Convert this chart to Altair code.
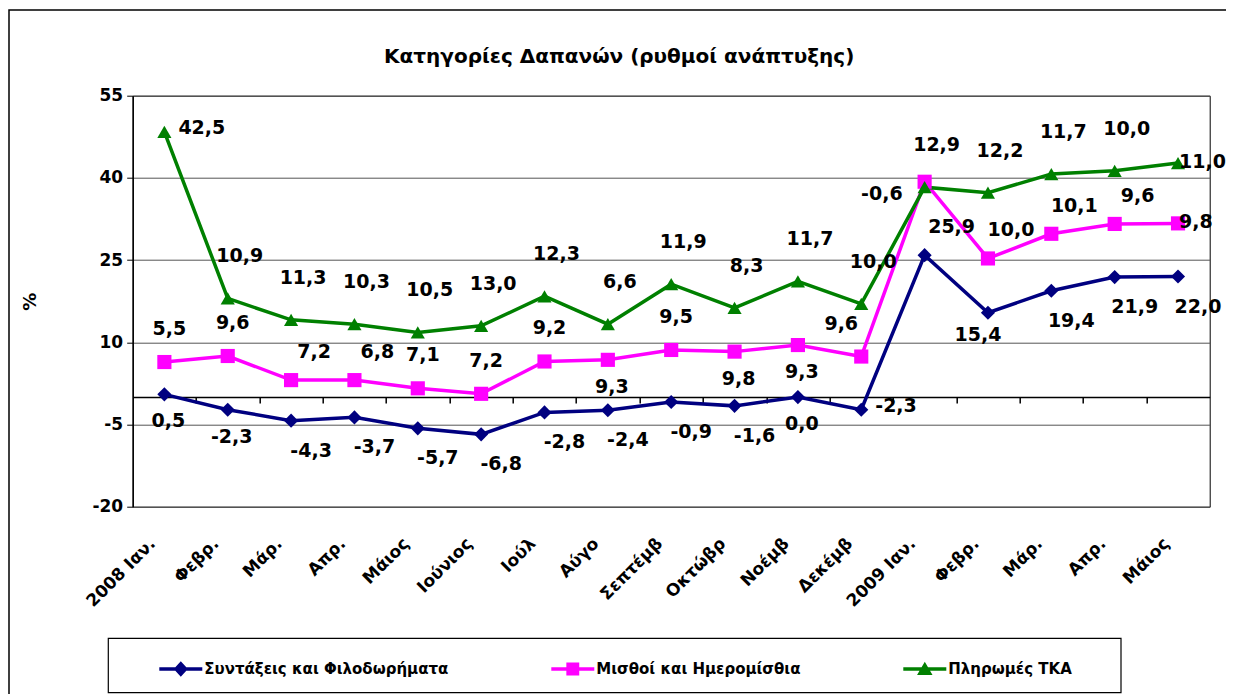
import json
import altair as alt
import pandas as pd

# ---------------- data ----------------
MONTHS = ["2008 Ιαν.", "Φεβρ.", "Μάρ.", "Απρ.", "Μάιος", "Ιούνιος", "Ιούλ",
          "Αύγο", "Σεπτέμβ", "Οκτώβρ", "Νοέμβ", "Δεκέμβ", "2009 Ιαν.",
          "Φεβρ.", "Μάρ.", "Απρ.", "Μάιος"]

SERIES = ["Συντάξεις και Φιλοδωρήματα", "Μισθοί και Ημερομίσθια", "Πληρωμές ΤΚΑ"]

PENSIONS = [0.5, -2.3, -4.3, -3.7, -5.7, -6.8, -2.8, -2.4, -0.9, -1.6, 0.0,
            -2.3, 25.9, 15.4, 19.4, 21.9, 22.0]
WAGES = [6.4, 7.5, 3.1, 3.1, 1.6, 0.6, 6.5, 6.8, 8.6, 8.3, 9.5, 7.4, 39.3,
         25.3, 29.8, 31.6, 31.7]
TKA = [48.4, 18.0, 14.1, 13.3, 11.8, 13.0, 18.4, 13.3, 20.6, 16.3, 21.1, 17.0,
       38.3, 37.3, 40.7, 41.3, 42.7]

PENSIONS_LABELS = ["0,5", "-2,3", "-4,3", "-3,7", "-5,7", "-6,8", "-2,8", "-2,4",
                   "-0,9", "-1,6", "0,0", "-2,3", "25,9", "15,4", "19,4", "21,9", "22,0"]
WAGES_LABELS = ["5,5", "9,6", "7,2", "6,8", "7,1", "7,2", "9,2", "9,3", "9,5",
                "9,8", "9,3", "9,6", "-0,6", "10,0", "10,1", "9,6", "9,8"]
TKA_LABELS = ["42,5", "10,9", "11,3", "10,3", "10,5", "13,0", "12,3", "6,6",
              "11,9", "8,3", "11,7", "10,0", "12,9", "12,2", "11,7", "10,0", "11,0"]

# label placement codes (Excel-like: above / below / right / left ...)
PENSIONS_POS = ["bc", "bc", "b", "b", "b", "b", "b", "b", "b", "b", "bc",
                "r", "ar", "bl", "b", "b", "b"]
WAGES_POS = ["a", "a", "ar2", "ar2", "a", "a", "a", "bc", "a", "bc", "bc", "al",
             "l", "ar2", "ar2", "ar2", "R"]
TKA_POS = ["r"] + ["A"] * 15 + ["R"]

Y_TICKS = [-20, -5, 10, 25, 40, 55]

# ---------------- styling ----------------
COLORS = ["#000080", "#FF00FF", "#008000"]
MARKERS = ["diamond", "square", "triangle-up"]
LINE_PART = "M-1,-0.08H1V0.08H-1Z"
LEGEND_PATHS = [
    LINE_PART + "M0,-0.36L0.33,0L0,0.36L-0.33,0Z",
    LINE_PART + "M-0.3,-0.3H0.3V0.3H-0.3Z",
    LINE_PART + "M0,-0.34L0.36,0.28H-0.36Z",
]
FONT = "DejaVu Sans"
W, H = 1077, 411
Y_MIN, Y_MAX = -20, 55
ZERO_OFFSET = -H * (0 - Y_MIN) / (Y_MAX - Y_MIN)
PAD_L, PAD_T = 124.7, 87.7
PAD_R = 1218 - PAD_L - W
PAD_B = 686 - PAD_T - H
LEG_X, LEG_Y, LEG_X2, LEG_Y2 = -24.4, 542.6, 988.3, 597.0

OFFSETS = {  # code: (dx, dy, align)
    "A": (12, -42, "center"),
    "a": (5, -33, "center"),
    "ar2": (23, -28, "center"),
    "al": (-20, -33, "center"),
    "b": (20, 30, "center"),
    "bc": (4, 27, "center"),
    "bl": (-10, 22, "center"),
    "r": (14, -4, "left"),
    "R": (1, -1, "left"),
    "l": (-22, 12, "right"),
    "ar": (27, -28, "center"),
}

rows = []
for s, vals, labs, poss in zip(SERIES, [PENSIONS, WAGES, TKA],
                               [PENSIONS_LABELS, WAGES_LABELS, TKA_LABELS],
                               [PENSIONS_POS, WAGES_POS, TKA_POS]):
    for i, (v, lab, p) in enumerate(zip(vals, labs, poss)):
        rows.append({"series": s, "i": i, "value": v, "label": lab, "pos": p})
df = pd.DataFrame(rows)

xscale = alt.Scale(domain=[-0.5, len(MONTHS) - 0.5], nice=False, zero=False)
yscale = alt.Scale(domain=[Y_MIN, Y_MAX], nice=False, zero=False)
cscale = alt.Scale(domain=SERIES, range=COLORS)

legend = alt.Legend(
    title=None, orient="none", legendX=LEG_X, legendY=LEG_Y,
    direction="horizontal", columns=3, columnPadding=60, padding=9,
    symbolSize=1849, symbolStrokeWidth=0, symbolOffset=42, labelOffset=2,
    labelFont=FONT, labelFontSize=15, labelFontWeight="bold",
    labelColor="black", labelLimit=400,
)

y_axis = alt.Axis(
    values=Y_TICKS, labelExpr="'' + datum.value", grid=True,
    gridColor="#555555", gridWidth=1,
    domainColor="black", domainWidth=1.5, tickColor="black", tickSize=6,
    labelFont=FONT, labelFontSize=17, labelFontWeight="bold", labelColor="black",
    labelPadding=4, title="%", titleFont=FONT, titleFontSize=18,
    titleFontWeight="bold", titleColor="black", titleX=-93, titleY=H / 2,
)
Y = alt.Y("value:Q", scale=yscale, axis=y_axis)

base = alt.Chart(df)
one = pd.DataFrame({"k": [0]})

# whole-chart frame (right and bottom sides fall outside the picture)
frame = alt.Chart(one).mark_rect(
    fill="white", fillOpacity=0, stroke="black", strokeWidth=1.5
).encode(
    x=alt.value(-PAD_L + 1), x2=alt.value(W + 60),
    y=alt.value(-85.7), y2=alt.value(H + 260),
)
# legend box
legend_box = alt.Chart(one).mark_rect(
    fill="white", stroke="black", strokeWidth=1.2
).encode(
    x=alt.value(LEG_X), x2=alt.value(LEG_X2),
    y=alt.value(LEG_Y), y2=alt.value(LEG_Y2),
)

# legend helper (no data drawn)
helper = base.transform_filter("false").mark_point(filled=True, opacity=1).encode(
    x=alt.X("i:Q", scale=xscale, axis=None),
    y=Y,
    color=alt.Color("series:N", scale=cscale, legend=legend),
    shape=alt.Shape("series:N", scale=alt.Scale(domain=SERIES, range=LEGEND_PATHS),
                    legend=legend),
)

label_axis = alt.Axis(
    orient="bottom",
    values=list(range(len(MONTHS))),
    labelExpr=json.dumps(MONTHS, ensure_ascii=False) + "[datum.value]",
    labelAngle=-45, labelAlign="right", labelBaseline="middle",
    labelPadding=34, labelOffset=-12, labelFont=FONT, labelFontSize=17,
    labelFontWeight="bold", labelColor="black", labelOverlap=False,
    labelFlush=False, labelBound=False, ticks=False, domain=False, grid=False,
    title=None,
)
zero_axis = alt.Axis(
    orient="bottom",
    values=[i + 0.5 for i in range(len(MONTHS) - 1)], labels=False, ticks=True,
    tickSize=6, tickColor="black", tickWidth=1.5, domain=True,
    domainColor="black", domainWidth=1.5, grid=False, offset=ZERO_OFFSET,
    title=None,
)

lines = base.mark_line(strokeWidth=3.5).encode(
    x=alt.X("i:Q", scale=xscale, axis=label_axis),
    y=Y,
    color=alt.Color("series:N", scale=cscale, legend=None),
)

marker_layers = []
for k, (s, col, shp) in enumerate(zip(SERIES, COLORS, MARKERS)):
    marker_layers.append(
        base.transform_filter(alt.datum.series == s)
        .mark_point(filled=True, size=200, opacity=1, shape=shp, color=col)
        .encode(
            x=alt.X("i:Q", scale=xscale, axis=zero_axis if k == 0 else None),
            y=Y,
        )
    )

text_layers = []
for code, (dx, dy, align) in OFFSETS.items():
    text_layers.append(
        base.transform_filter(alt.datum.pos == code)
        .mark_text(dx=dx, dy=dy, align=align, baseline="middle", font=FONT,
                   fontSize=19, fontWeight="bold", color="black")
        .encode(
            x=alt.X("i:Q", scale=xscale, axis=None),
            y=Y,
            text="label:N",
        )
    )

chart = (
    alt.layer(frame, legend_box, helper, lines, *marker_layers, *text_layers)
    .resolve_axis(x="independent")
    .properties(
        width=W, height=H,
        autosize=alt.AutoSizeParams(type="none"),
        padding={"left": PAD_L, "top": PAD_T, "right": PAD_R, "bottom": PAD_B},
        title=alt.TitleParams(
            text="Κατηγορίες Δαπανών (ρυθμοί ανάπτυξης)", font=FONT, fontSize=20,
            fontWeight="bold", color="black", anchor="middle", frame="group",
            dx=-52, offset=-58,
        ),
    )
    .configure(font=FONT)
    .configure_view(stroke="black", strokeWidth=1)
)

chart.save("out.html", embed_options={"renderer": "svg", "actions": False})
